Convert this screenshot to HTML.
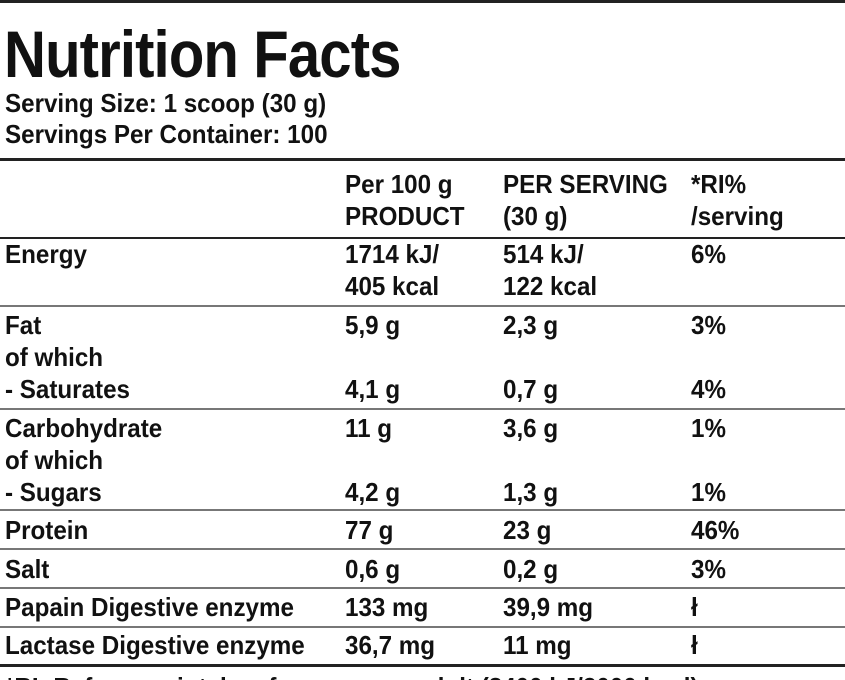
<!DOCTYPE html>
<html><head><style>
html,body{margin:0;padding:0;background:#fff;width:845px;height:680px;overflow:hidden;position:relative}
body{font-family:"Liberation Sans",sans-serif;color:#111;font-weight:bold}
.t{position:absolute;font-size:26px;line-height:32px;white-space:nowrap;transform:scaleX(0.93);transform-origin:0 0}
.l{position:absolute;left:0;width:845px;background:#222}
</style></head><body>
<div class="l" style="top:0;height:3px"></div>
<div class="t" style="left:4px;top:16px;font-size:66px;line-height:76px;letter-spacing:-1px;transform:scaleX(0.88)">Nutrition Facts</div>
<div class="t" style="left:5px;top:87px">Serving Size: 1 scoop (30 g)</div>
<div class="t" style="left:5px;top:118px">Servings Per Container: 100</div>
<div class="l" style="top:158px;height:3px"></div>
<div class="t" style="left:345px;top:168px">Per 100 g<br>PRODUCT</div>
<div class="t" style="left:503px;top:168px">PER SERVING<br>(30 g)</div>
<div class="t" style="left:691px;top:168px">*RI%<br>/serving</div>
<div class="l" style="top:237px;height:2px"></div>
<div class="t" style="left:5px;top:238px">Energy</div>
<div class="t" style="left:345px;top:238px">1714 kJ/<br>405 kcal</div>
<div class="t" style="left:503px;top:238px">514 kJ/<br>122 kcal</div>
<div class="t" style="left:691px;top:238px">6%</div>
<div class="l" style="top:305px;height:2px;background:#777"></div>
<div class="t" style="left:5px;top:309px">Fat<br>of which<br>- Saturates</div>
<div class="t" style="left:345px;top:309px">5,9 g<br><br>4,1 g</div>
<div class="t" style="left:503px;top:309px">2,3 g<br><br>0,7 g</div>
<div class="t" style="left:691px;top:309px">3%<br><br>4%</div>
<div class="l" style="top:408px;height:2px;background:#777"></div>
<div class="t" style="left:5px;top:412px">Carbohydrate<br>of which<br>- Sugars</div>
<div class="t" style="left:345px;top:412px">11 g<br><br>4,2 g</div>
<div class="t" style="left:503px;top:412px">3,6 g<br><br>1,3 g</div>
<div class="t" style="left:691px;top:412px">1%<br><br>1%</div>
<div class="l" style="top:509px;height:2px;background:#777"></div>
<div class="t" style="left:5px;top:514px">Protein</div>
<div class="t" style="left:345px;top:514px">77 g</div>
<div class="t" style="left:503px;top:514px">23 g</div>
<div class="t" style="left:691px;top:514px">46%</div>
<div class="l" style="top:548px;height:2px;background:#777"></div>
<div class="t" style="left:5px;top:553px">Salt</div>
<div class="t" style="left:345px;top:553px">0,6 g</div>
<div class="t" style="left:503px;top:553px">0,2 g</div>
<div class="t" style="left:691px;top:553px">3%</div>
<div class="l" style="top:587px;height:2px;background:#777"></div>
<div class="t" style="left:5px;top:591px">Papain Digestive enzyme</div>
<div class="t" style="left:345px;top:591px">133 mg</div>
<div class="t" style="left:503px;top:591px">39,9 mg</div>
<div class="t" style="left:691px;top:591px">ł</div>
<div class="l" style="top:626px;height:2px;background:#777"></div>
<div class="t" style="left:5px;top:629px">Lactase Digestive enzyme</div>
<div class="t" style="left:345px;top:629px">36,7 mg</div>
<div class="t" style="left:503px;top:629px">11 mg</div>
<div class="t" style="left:691px;top:629px">ł</div>
<div class="l" style="top:664px;height:3px"></div>
<div class="t" style="left:5px;top:671px">*RI: Reference intake of an average adult (8400 kJ/2000 kcal)</div>
</body></html>
